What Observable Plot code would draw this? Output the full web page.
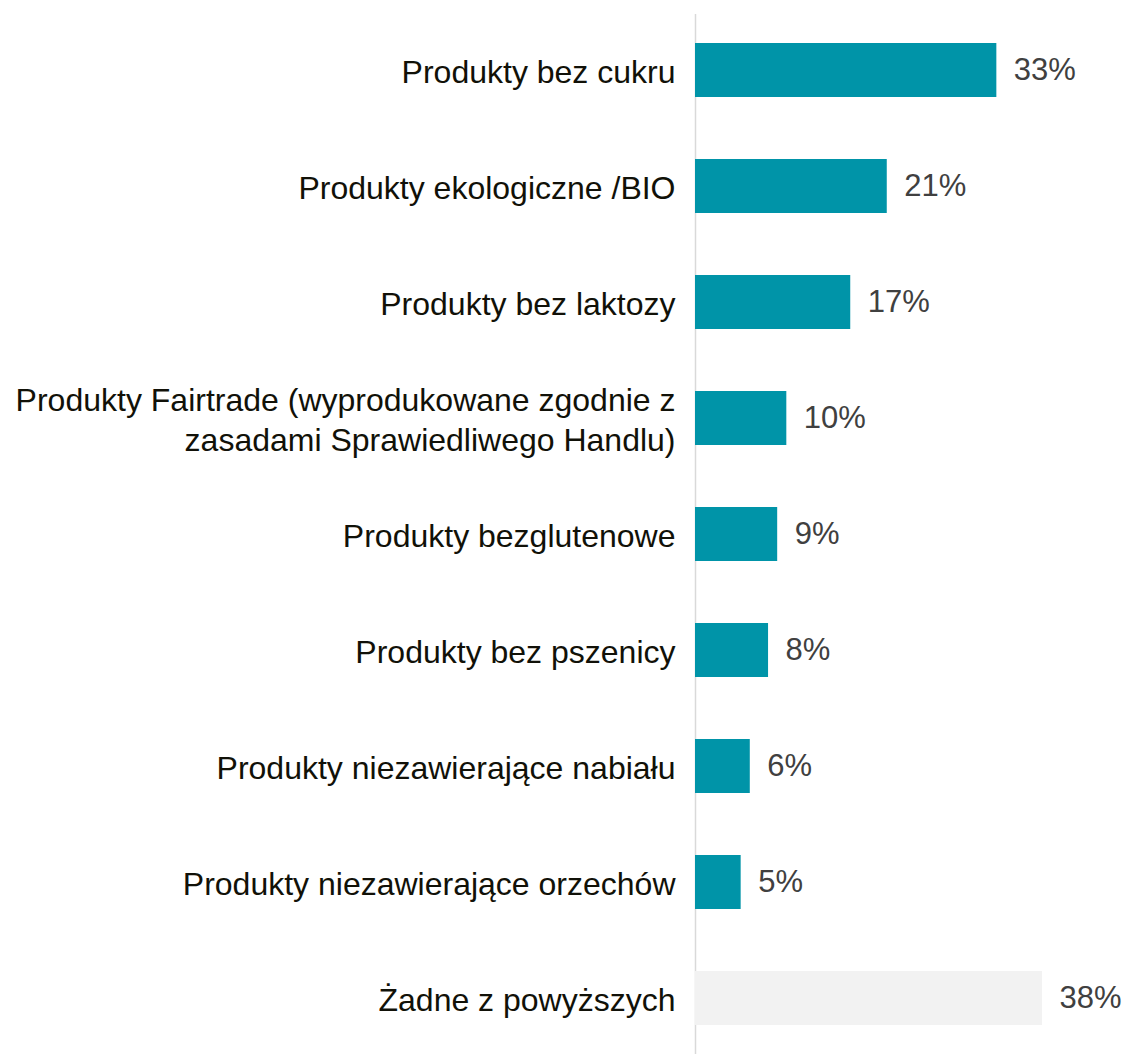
<!DOCTYPE html>
<html>
<head>
<meta charset="utf-8">
<script src="https://cdn.jsdelivr.net/npm/d3@7"></script>
<script src="https://cdn.jsdelivr.net/npm/@observablehq/plot@0.6"></script>
<style>
  html, body { margin: 0; padding: 0; background: #ffffff; }
  #chart { width: 1123px; height: 1054px; }
</style>
</head>
<body>
<div id="chart"></div>
<script>
const categories = [
  "Produkty bez cukru",
  "Produkty ekologiczne /BIO",
  "Produkty bez laktozy",
  "Produkty Fairtrade (wyprodukowane zgodnie z\nzasadami Sprawiedliwego Handlu)",
  "Produkty bezglutenowe",
  "Produkty bez pszenicy",
  "Produkty niezawierające nabiału",
  "Produkty niezawierające orzechów",
  "Żadne z powyższych"
];
const values = [33, 21, 17, 10, 9, 8, 6, 5, 38];
const groups = ["produkt", "produkt", "produkt", "produkt", "produkt", "produkt", "produkt", "produkt", "brak"];

const data = categories.map((label, i) => ({label, value: values[i], group: groups[i]}));

const chart = Plot.plot({
  width: 1123,
  height: 1054,
  marginLeft: 695,
  marginRight: 81,
  marginTop: 14,
  marginBottom: 0,
  style: {fontFamily: "'Liberation Sans', Arial, sans-serif", background: "#ffffff"},
  x: {domain: [0, 38], axis: null},
  y: {domain: categories, paddingInner: 0.5365, paddingOuter: 0.2408, axis: null},
  color: {domain: ["produkt", "brak"], range: ["#0094a8", "#f2f2f2"]},
  marks: [
    Plot.ruleX([0], {stroke: "#d9d9d9", strokeWidth: 1.5}),
    Plot.barX(data, {x: "value", y: "label", fill: "group"}),
    Plot.text(data, {x: 0, y: "label", text: "label", textAnchor: "end", dx: -20, fontSize: 32, fill: "#111108", lineHeight: 1.25}),
    Plot.text(data, {x: "value", y: "label", text: d => d.value + "%", textAnchor: "start", dx: 17, fontSize: 31, fill: "#404040"})
  ]
});
document.getElementById("chart").appendChild(chart);
</script>
</body>
</html>
